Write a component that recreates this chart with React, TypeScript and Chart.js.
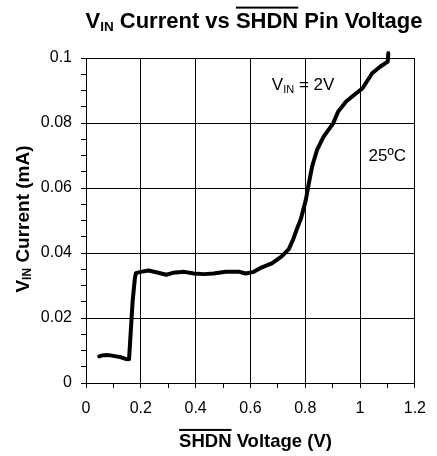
import React, { useEffect, useRef } from "react";
import { Chart, registerables } from "chart.js";

Chart.register(...registerables);

// SHDN pin voltage (V)
const shdnVoltage = [
  0.048, 0.06, 0.074, 0.09, 0.11, 0.128, 0.145, 0.157, 0.162, 0.17, 0.178, 0.182,
  0.2, 0.228, 0.26, 0.293, 0.317, 0.358, 0.394, 0.43, 0.465, 0.51, 0.56, 0.583,
  0.612, 0.642, 0.678, 0.713, 0.74, 0.755, 0.77, 0.784, 0.802, 0.813, 0.825,
  0.843, 0.867, 0.902, 0.92, 0.949, 0.985, 1.009, 1.044, 1.073, 1.101, 1.103,
];
// VIN current (mA)
const vinCurrent = [
  0.0082, 0.0085, 0.0086, 0.0085, 0.0082, 0.0079, 0.0074, 0.0073, 0.014, 0.025, 0.032, 0.0338,
  0.0342, 0.0346, 0.034, 0.0333, 0.0339, 0.0342, 0.0337, 0.0335, 0.0337, 0.0342, 0.0342, 0.0337,
  0.0342, 0.0356, 0.0368, 0.0389, 0.0412, 0.044, 0.0475, 0.0505, 0.0563, 0.0614, 0.0666,
  0.0717, 0.0758, 0.0799, 0.0835, 0.0866, 0.0891, 0.0907, 0.0953, 0.0973, 0.0989, 0.1015,
];

const xTickLabels = ["0", "0.2", "0.4", "0.6", "0.8", "1", "1.2"];
const yTickLabels = ["0", "0.02", "0.04", "0.06", "0.08", "0.1"];

const FONT = "'Liberation Sans', Arial, sans-serif";

type Run = { t: string; s: number; bold?: boolean; dy?: number; over?: boolean };

function runsWidth(ctx: CanvasRenderingContext2D, runs: Run[]) {
  let total = 0;
  for (const r of runs) {
    ctx.font = `${r.bold ? "bold " : ""}${r.s}px ${FONT}`;
    total += ctx.measureText(r.t).width;
  }
  return total;
}

function drawRuns(ctx: CanvasRenderingContext2D, runs: Run[], startX: number, baseY: number) {
  let x = startX;
  ctx.textBaseline = "alphabetic";
  ctx.textAlign = "left";
  ctx.fillStyle = "#000";
  for (const r of runs) {
    ctx.font = `${r.bold ? "bold " : ""}${r.s}px ${FONT}`;
    const w = ctx.measureText(r.t).width;
    ctx.fillText(r.t, x, baseY + (r.dy || 0));
    if (r.over) ctx.fillRect(x, baseY - r.s * 0.95, w, 2);
    x += w;
  }
}

function drawCentered(ctx: CanvasRenderingContext2D, runs: Run[], cx: number, baseY: number) {
  drawRuns(ctx, runs, cx - runsWidth(ctx, runs) / 2, baseY);
}

const textPlugin = {
  id: "textPlugin",
  afterDraw(chart: any) {
    const ctx: CanvasRenderingContext2D = chart.ctx;
    const xs = chart.scales.x;
    const ys = chart.scales.y;
    ctx.save();
    // Title
    drawCentered(
      ctx,
      [
        { t: "V", s: 22, bold: true },
        { t: "IN", s: 13.5, bold: true, dy: 3 },
        { t: " Current vs ", s: 22, bold: true },
        { t: "SHDN", s: 22, bold: true, over: true },
        { t: " Pin Voltage", s: 22, bold: true },
      ],
      254,
      27.5
    );
    // X axis title
    drawCentered(
      ctx,
      [
        { t: "SHDN", s: 18.5, bold: true, over: true },
        { t: " Voltage (V)", s: 18.5, bold: true },
      ],
      255.5,
      446.5
    );
    // Y axis title
    ctx.save();
    ctx.translate(28.5, 219);
    ctx.rotate(-Math.PI / 2);
    drawCentered(
      ctx,
      [
        { t: "V", s: 19, bold: true },
        { t: "IN", s: 12, bold: true, dy: 2 },
        { t: " Current (mA)", s: 19, bold: true },
      ],
      0,
      0
    );
    ctx.restore();
    // Annotations
    drawRuns(
      ctx,
      [
        { t: "V", s: 17 },
        { t: "IN", s: 11, dy: 3 },
        { t: " = 2V", s: 17 },
      ],
      xs.getPixelForValue(0.678),
      ys.getPixelForValue(0.0901)
    );
    drawRuns(ctx, [{ t: "25ºC", s: 17 }], xs.getPixelForValue(1.031), ys.getPixelForValue(0.0684));
    ctx.restore();
  },
};

export default function App() {
  const ref = useRef<HTMLCanvasElement | null>(null);
  useEffect(() => {
    if (!ref.current) return;
    const points = shdnVoltage.map((v, i) => ({ x: v, y: vinCurrent[i] }));
    const chart = new Chart(ref.current, {
      type: "scatter",
      data: {
        datasets: [
          {
            data: points,
            showLine: true,
            borderColor: "#000",
            backgroundColor: "#000",
            borderWidth: 4,
            pointRadius: 0,
            tension: 0,
            clip: false as any,
            borderJoinStyle: "round",
            borderCapStyle: "round",
          },
        ],
      },
      options: {
        animation: false,
        responsive: false,
        devicePixelRatio: 1,
        layout: { padding: { top: 58, right: 12, left: 0, bottom: 0 } },
        plugins: { legend: { display: false }, tooltip: { enabled: false }, title: { display: false } },
        scales: {
          x: {
            type: "linear",
            min: 0,
            max: 1.2,
            afterFit: (s: any) => {
              s.height = 73;
            },
            border: { display: true, color: "#000", width: 1 },
            grid: {
              color: (c: any) => (Math.round(c.tick.value * 10) % 2 === 0 ? "#000" : "rgba(0,0,0,0)"),
              tickColor: "#000",
              tickWidth: 1,
              tickLength: 5,
              lineWidth: 1,
            },
            ticks: {
              stepSize: 0.1,
              autoSkip: false,
              maxRotation: 0,
              padding: 11,
              color: "#000",
              font: { family: FONT, size: 16 },
              callback: (v: any) => {
                const k = Math.round(Number(v) * 10);
                return k % 2 === 0 ? xTickLabels[k / 2] : "";
              },
            },
          },
          y: {
            type: "linear",
            min: 0,
            max: 0.1,
            afterFit: (s: any) => {
              s.width = 86;
            },
            border: { display: true, color: "#000", width: 1 },
            grid: {
              color: (c: any) => (Math.round(c.tick.value * 1000) % 20 === 0 ? "#000" : "rgba(0,0,0,0)"),
              tickColor: "#000",
              tickWidth: 1,
              tickLength: 5,
              lineWidth: 1,
            },
            ticks: {
              stepSize: 0.005,
              autoSkip: false,
              padding: 9,
              color: "#000",
              font: { family: FONT, size: 16 },
              callback: (v: any) => {
                const k = Math.round(Number(v) * 1000);
                return k % 20 === 0 ? yTickLabels[k / 20] : "";
              },
            },
          },
        },
      },
      plugins: [textPlugin],
    });
    return () => chart.destroy();
  }, []);
  return (
    <div style={{ position: "absolute", left: 0, top: 0, width: 437, height: 456, background: "#fff" }}>
      <canvas ref={ref} width={437} height={456} style={{ width: 437, height: 456, display: "block" }} />
    </div>
  );
}
